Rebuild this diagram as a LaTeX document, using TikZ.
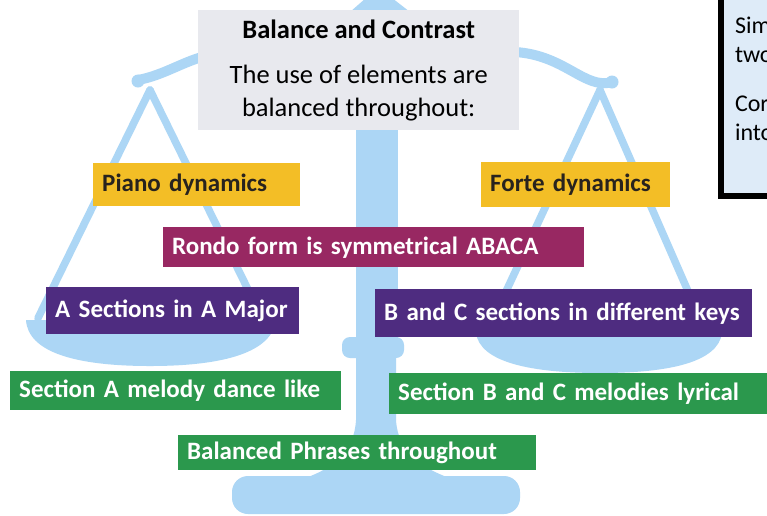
\documentclass[tikz,border=0pt]{standalone}
\usepackage{fontspec}
\setmainfont{Carlito}
\usetikzlibrary{positioning}

\definecolor{scaleblue}{RGB}{172,214,245}
\definecolor{gold}{RGB}{243,190,38}
\definecolor{plum}{RGB}{152,40,98}
\definecolor{grape}{RGB}{78,44,128}
\definecolor{leaf}{RGB}{43,152,77}
\definecolor{paper}{RGB}{232,233,238}
\definecolor{ink}{RGB}{40,35,30}
\definecolor{notefill}{RGB}{222,235,248}

\begin{document}
\begin{tikzpicture}[x=1pt, y=-1pt,
	arm/.style = {draw=scaleblue, line width=10pt, line cap=round},
	cord/.style = {draw=scaleblue, line width=7.5pt, line cap=round},
	tag/.style = {anchor=north west, inner xsep=9pt, inner ysep=0pt, align=left, text=white, font=\fontsize{25}{30}\selectfont\bfseries},
	dynbox/.style = {tag, fill=gold, text=ink},
	formbox/.style = {tag, fill=plum},
	keybox/.style = {tag, fill=grape},
	tunebox/.style = {tag, fill=leaf}]
	\useasboundingbox (0,0) rectangle (767,515);
	\clip (0,0) rectangle (767,515);
	\fill[white] (0,0) rectangle (767,515);

	% the scale: post, collar and foot
	\fill[scaleblue] (350,12) -- (366,-2) -- (392,-2) -- (410,12) -- cycle;
	\fill[scaleblue] (356,100) rectangle (398,340);
	\fill[scaleblue, rounded corners=8pt] (342,337) rectangle (404,358);
	\fill[scaleblue] (356,355) -- (356,420) .. controls (354,452) and (335,468) .. (300,480)
		-- (455,480) .. controls (420,468) and (398,452) .. (396,420) -- (396,355) -- cycle;
	\fill[scaleblue, rounded corners=16pt] (232,476) rectangle (520,514);

	% beam with its two hooks
	\draw[arm] (138,80) .. controls (165,75) and (185,60) .. (210,55) -- (378,30)
		-- (515,52) .. controls (565,55) and (585,90) .. (612,82);
	\fill[scaleblue] (138,81) circle (6.5);
	\fill[scaleblue] (612,82) circle (6.5);

	% pans
	\draw[cord] (150,90) -- (38,318);
	\draw[cord] (150,90) -- (262,318);
	\draw[cord] (600,90) -- (488,330);
	\draw[cord] (600,90) -- (705,330);
	\fill[scaleblue] (26,320) -- (276,320) .. controls (272,352) and (225,366) .. (150,366)
		.. controls (75,366) and (28,352) .. (26,320) -- cycle;
	\fill[scaleblue] (476,333) -- (722,333) .. controls (718,362) and (670,373) .. (600,373)
		.. controls (530,373) and (480,362) .. (476,333) -- cycle;

	% heading
	\node[anchor=north west, fill=paper, minimum width=321pt, minimum height=120pt, align=center, inner sep=0pt,
		font=\fontsize{26.5}{33}\selectfont] (intro) at (198,10)
		{\bfseries Balance and Contrast\\[12pt]The use of elements are\\balanced throughout:};

	% the two sides
	\node[dynbox, text width=189pt, minimum height=43pt] (piano) at (93,163) {Piano dynamics};
	\node[dynbox, text width=171pt, minimum height=45pt] (forte) at (481,162) {Forte dynamics};
	\node[formbox, text width=403pt, minimum height=40pt] (rondo) at (163,227) {Rondo form is symmetrical ABACA};
	\node[keybox, text width=235pt, minimum height=47pt] (asec) at (46,287) {A Sections in A Major};
	\node[keybox, text width=359pt, minimum height=48pt] (bcsec) at (375,289) {B and C sections in different keys};
	\node[tunebox, text width=313pt, minimum height=39pt] (amel) at (10,371) {Section A melody dance like};
	\node[tunebox, text width=380pt, minimum height=41pt] (bcmel) at (389,373) {Section B and C melodies lyrical};
	\node[tunebox, text width=340pt, minimum height=35pt] (phrases) at (178,435) {Balanced Phrases throughout};

	% side note, runs off the edge
	\node[anchor=north west, draw=black, line width=6pt, fill=notefill, minimum height=234pt, text width=120pt,
		inner xsep=14pt, align=left, font=\fontsize{24}{29}\selectfont] (note) at (718,-41)
		{Sim\\two\\[20pt]Cor\\into};
\end{tikzpicture}
\end{document}
